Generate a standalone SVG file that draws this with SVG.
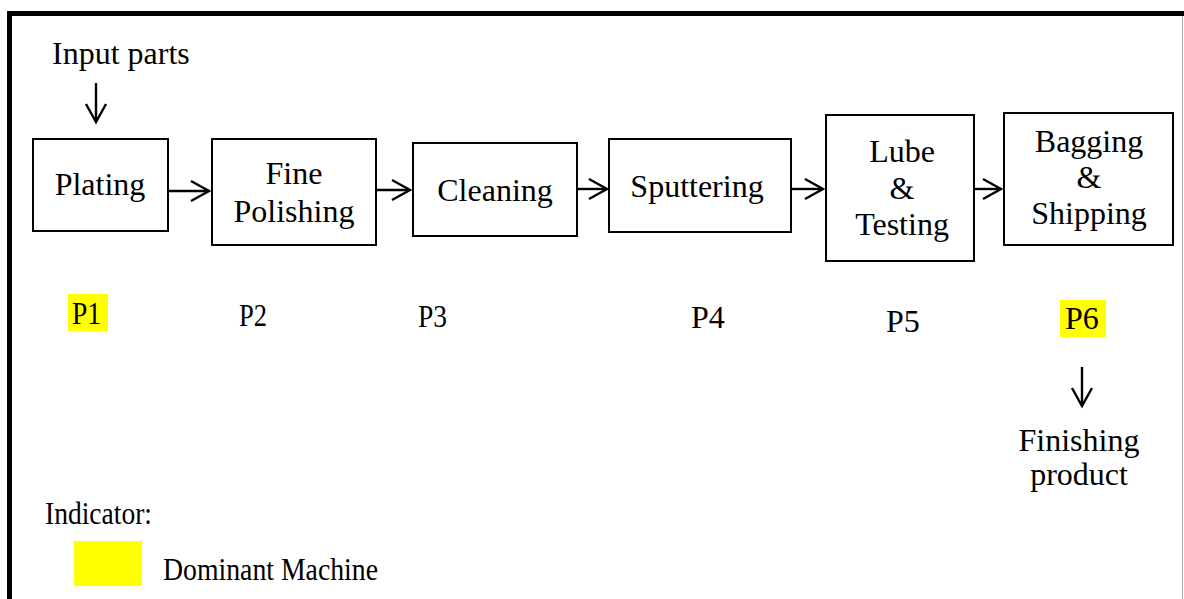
<svg xmlns="http://www.w3.org/2000/svg" width="1184" height="599" viewBox="0 0 1184 599">
<style>
text{font-family:"Liberation Serif","Times New Roman",serif;font-size:32px;fill:#000}
.c{text-anchor:middle}
.box{fill:#fff;stroke:#000;stroke-width:2}
.conn{stroke:#000;stroke-width:2.4;fill:none;marker-end:url(#ah)}
.hl{fill:#ffff00}
</style>
<defs>
<marker id="ah" viewBox="0 0 24 24" refX="21" refY="12" markerWidth="24" markerHeight="24" markerUnits="userSpaceOnUse" orient="auto">
<path d="M3,2 L21,12 L3,22" fill="none" stroke="#000" stroke-width="2.4"/>
</marker>
</defs>
<rect x="0" y="0" width="1184" height="599" fill="#fff"/>
<g id="frame">
<line x1="9.5" y1="13.5" x2="1184" y2="13.5" stroke="#000" stroke-width="5"/>
<line x1="9.5" y1="11" x2="9.5" y2="599" stroke="#000" stroke-width="5"/>
<line x1="1182.5" y1="16" x2="1182.5" y2="599" stroke="#aaa" stroke-width="1"/>
</g>
<g id="input">
<text x="52" y="64">Input parts</text>
</g>
<g id="connectors">
<line class="conn" x1="96" y1="83" x2="96" y2="122"/>
<line class="conn" x1="168" y1="191" x2="209" y2="191"/>
<line class="conn" x1="376" y1="190" x2="410" y2="190"/>
<line class="conn" x1="577" y1="189" x2="607" y2="189"/>
<line class="conn" x1="791" y1="189" x2="823" y2="189"/>
<line class="conn" x1="974" y1="189" x2="1001" y2="189"/>
<line class="conn" x1="1082" y1="367" x2="1082" y2="406"/>
</g>
<g id="plating">
<rect class="box" x="33" y="139" width="135" height="92"/>
<text class="c" x="100" y="195">Plating</text>
</g>
<g id="fine-polishing">
<rect class="box" x="212" y="139" width="164" height="106"/>
<text class="c" x="294" y="184">Fine</text>
<text class="c" x="294" y="222">Polishing</text>
</g>
<g id="cleaning">
<rect class="box" x="413" y="143" width="164" height="93"/>
<text class="c" x="495" y="201">Cleaning</text>
</g>
<g id="sputtering">
<rect class="box" x="609" y="139" width="182" height="93"/>
<text class="c" x="697" y="197">Sputtering</text>
</g>
<g id="lube-testing">
<rect class="box" x="826" y="115" width="148" height="146"/>
<text class="c" x="902" y="162">Lube</text>
<text class="c" x="902" y="199">&amp;</text>
<text class="c" x="902" y="235">Testing</text>
</g>
<g id="bagging-shipping">
<rect class="box" x="1004" y="113" width="169" height="132"/>
<text class="c" x="1089" y="152">Bagging</text>
<text class="c" x="1089" y="188">&amp;</text>
<text class="c" x="1089" y="224">Shipping</text>
</g>
<g id="labels">
<rect class="hl" x="68" y="294" width="40" height="37"/>
<text x="72" y="324" textLength="29" lengthAdjust="spacingAndGlyphs">P1</text>
<text x="239" y="326" textLength="28" lengthAdjust="spacingAndGlyphs">P2</text>
<text x="418" y="327" textLength="29" lengthAdjust="spacingAndGlyphs">P3</text>
<text x="691" y="328">P4</text>
<text x="886" y="332">P5</text>
<rect class="hl" x="1060" y="300" width="46" height="37"/>
<text x="1065" y="329">P6</text>
</g>
<g id="output">
<text class="c" x="1079" y="451">Finishing</text>
<text class="c" x="1079" y="485">product</text>
</g>
<g id="legend">
<text x="45" y="524" textLength="107" lengthAdjust="spacingAndGlyphs">Indicator:</text>
<rect class="hl" x="74" y="541" width="68" height="45"/>
<text x="163" y="580" textLength="215" lengthAdjust="spacingAndGlyphs">Dominant Machine</text>
</g>
</svg>
